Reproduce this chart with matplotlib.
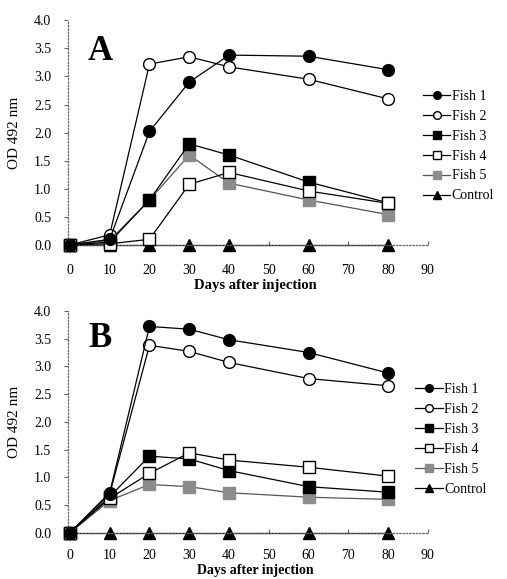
import matplotlib
matplotlib.use("Agg")
import matplotlib.pyplot as plt
from matplotlib.ticker import FormatStrFormatter

plt.rcParams['font.family'] = ['Liberation Serif', 'DejaVu Serif']

# jours après injection
days = [0, 10, 20, 30, 40, 60, 80]
x_ticks = [0, 10, 20, 30, 40, 50, 60, 70, 80, 90]
y_ticks = [0.0, 0.5, 1.0, 1.5, 2.0, 2.5, 3.0, 3.5, 4.0]

# Panel A
a_fish1 = [0.0, 0.10, 2.02, 2.90, 3.38, 3.36, 3.12]
a_fish2 = [0.0, 0.18, 3.22, 3.35, 3.17, 2.95, 2.60]
a_fish3 = [0.0, 0.05, 0.80, 1.80, 1.60, 1.12, 0.75]
a_fish4 = [0.0, 0.02, 0.10, 1.08, 1.29, 0.96, 0.74]
a_fish5 = [0.0, 0.08, 0.80, 1.60, 1.10, 0.80, 0.54]
a_ctrl = [0.0, 0.0, 0.0, 0.0, 0.0, 0.0, 0.0]

# Panel B
b_fish1 = [0.0, 0.72, 3.72, 3.67, 3.48, 3.25, 2.88]
b_fish2 = [0.0, 0.70, 3.38, 3.27, 3.07, 2.78, 2.65]
b_fish3 = [0.0, 0.65, 1.38, 1.33, 1.12, 0.83, 0.73]
b_fish4 = [0.0, 0.62, 1.07, 1.44, 1.31, 1.18, 1.02]
b_fish5 = [0.0, 0.58, 0.87, 0.83, 0.72, 0.64, 0.60]
b_ctrl = [0.0, 0.0, 0.0, 0.0, 0.0, 0.0, 0.0]

names = ['Fish 1', 'Fish 2', 'Fish 3', 'Fish 4', 'Fish 5', 'Control']
styles = [
    dict(marker='o', mfc='black', mec='black', color='black', ms=8.5),
    dict(marker='o', mfc='white', mec='black', color='black', ms=8.5),
    dict(marker='s', mfc='black', mec='black', color='black', ms=8.5),
    dict(marker='s', mfc='white', mec='black', color='black', ms=8.5),
    dict(marker='s', mfc='#8c8c8c', mec='#8c8c8c', color='#555555', ms=8.5),
    dict(marker='^', mfc='black', mec='black', color='black', ms=8.5),
]
zorders = [7, 6, 4, 5, 3, 2]

fig = plt.figure(figsize=(5.07, 5.79), dpi=100)
ax_a = fig.add_axes([0.134, 0.577, 0.710, 0.388])
ax_b = fig.add_axes([0.134, 0.08, 0.710, 0.383])

# (axe, lettre, séries, légende, y de la lettre, y du titre x, pad des ticks x, taille titre x)
panels = [
    (ax_a, 'A', [a_fish1, a_fish2, a_fish3, a_fish4, a_fish5, a_ctrl], (0.97, 0.44), 0.86, -0.15, 14, 10.5),
    (ax_b, 'B', [b_fish1, b_fish2, b_fish3, b_fish4, b_fish5, b_ctrl], (0.948, 0.42), 0.875, -0.14, 11.5, 10),
]

for ax, letter, series, anchor, ly, xly, xpad, xfs in panels:
    for name, vals, st, z in zip(names, series, styles, zorders):
        ax.plot(days, vals, linewidth=0.9, label=name, zorder=z, clip_on=False, **st)
    ax.set_xlim(-0.5, 90)
    ax.set_ylim(0, 4.0)
    ax.set_xticks(x_ticks)
    ax.set_yticks(y_ticks)
    ax.yaxis.set_major_formatter(FormatStrFormatter('%.1f'))
    for side in ['top', 'right']:
        ax.spines[side].set_visible(False)
    for side in ['left', 'bottom']:
        ax.spines[side].set_linestyle(':')
        ax.spines[side].set_color('#666666')
        ax.spines[side].set_linewidth(0.9)
    ax.tick_params(axis='y', direction='out', length=3, color='#666666', labelsize=10, pad=9)
    ax.tick_params(axis='x', direction='in', length=3, color='#666666', labelsize=10, pad=xpad)
    ax.set_ylabel('OD 492 nm', fontsize=11)
    ax.yaxis.set_label_coords(-0.13, 0.5)
    ax.set_xlabel('Days after injection', fontsize=xfs, fontweight='bold')
    ax.xaxis.set_label_coords(0.52, xly)
    ax.text(0.09, ly, letter, transform=ax.transAxes, fontsize=25, fontweight='bold',
            va='center', ha='center')
    ax.legend(loc='center left', bbox_to_anchor=anchor, frameon=False,
              fontsize=10, handlelength=2.0, handletextpad=0.1,
              labelspacing=0.5, borderaxespad=0, markerscale=0.65)

fig.savefig('out.png', dpi=100)
